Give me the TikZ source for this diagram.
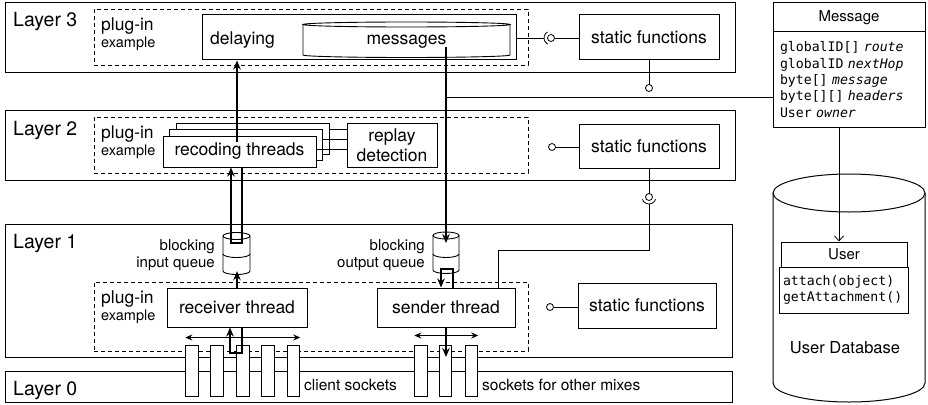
\documentclass[tikz,border=0pt]{standalone}
\usepackage{fontspec}
\setmainfont{TeX Gyre Heros}
\setmonofont{DejaVu Sans Mono}
\usepackage{tikz}
\usetikzlibrary{arrows.meta, positioning}
\newcommand{\fsz}[1]{\fontsize{#1}{#1}\selectfont}

\begin{document}
\begin{tikzpicture}[
  x=1pt, y=-1pt,
  layer/.style={draw, line width=1pt, fill=white},
  plugin/.style={draw, line width=0.9pt, dash pattern=on 4pt off 3pt},
  box/.style={draw, line width=1pt, fill=white, align=center, font=\fontsize{17.5}{20}\selectfont},
  txt/.style={inner sep=0pt, anchor=base west},
  lbl/.style={txt, font=\fsz{19.5}},
  plug/.style={txt, font=\fsz{17.5}},
  expl/.style={txt, font=\fsz{14.5}},
  qlbl/.style={inner sep=0pt, align=right, anchor=east, font=\fontsize{15}{17}\selectfont},
  sock/.style={draw, line width=1pt, fill=white, minimum width=12.5, minimum height=51},
  flow/.style={-{Stealth[length=9pt, width=7.5pt]}, line width=1.8pt},
  iface/.style={line width=0.8pt},
  dbl/.style={{Stealth[length=7pt, width=6pt]}-{Stealth[length=7pt, width=6pt]}, line width=1pt},
  umlhead/.style={draw, line width=1pt, fill=white, font=\fsz{15}},
  umlbody/.style={draw, line width=1pt, fill=white, align=left, font=\ttfamily\fontsize{13.2}{16.4}\selectfont},
]
\useasboundingbox (0,0) rectangle (928,404);

% Layer 3
\node[layer, minimum width=730, minimum height=69] (l3) at (370,37.5) {};
\node[lbl] (l3lbl) at (13,26.7) {Layer 3};
\node[plugin, minimum width=434, minimum height=56] (p3) at (311,37) {};
\node[plug] (p3a) at (101,30.7) {plug-in};
\node[expl] (p3b) at (101,47.7) {example};
\node[box, minimum width=314, minimum height=45] (delay) at (359,37.5) {};
\node[plug] (delaytxt) at (210,45) {delaying};
\draw[line width=0.9pt] (303,24.5) -- (303,55) arc[start angle=180, end angle=360, x radius=103.5pt, y radius=2.5pt] -- (510,24.5);
\draw[line width=0.9pt] (406.5,24.5) ellipse[x radius=103.5pt, y radius=2.5pt];
\node[plug, anchor=base] (msgs) at (406.5,45) {messages};
\node[box, minimum width=140, minimum height=45] (sf3) at (649,37.5) {static functions};

% Layer 2
\node[layer, minimum width=730, minimum height=70] (l2) at (370,145) {};
\node[lbl] (l2lbl) at (13,135) {Layer 2};
\node[plugin, minimum width=434, minimum height=56] (p2) at (311,145) {};
\node[plug] (p2a) at (101,138.3) {plug-in};
\node[expl] (p2b) at (101,155) {example};
\node[box, minimum width=153, minimum height=31] (rec3) at (252.5,138.5) {};
\node[box, minimum width=153, minimum height=31] (rec2) at (246,145) {};
\node[box, minimum width=153, minimum height=31] (rec1) at (239.5,151.5) {recoding threads};
\node[box, minimum width=90, minimum height=44] (rep) at (392,145) {replay\\detection};
\node[box, minimum width=140, minimum height=44] (sf2) at (649,146) {static functions};

% Layer 1
\node[layer, minimum width=727, minimum height=133] (l1) at (368.5,290.5) {};
\node[lbl] (l1lbl) at (13,248.3) {Layer 1};
\node[plugin, minimum width=434, minimum height=69] (p1) at (311,316.5) {};
\node[plug] (p1a) at (101,303) {plug-in};
\node[expl] (p1b) at (101,320.7) {example};
\node[minimum width=27, minimum height=35] (inq) at (236.5,253.5) {};
\draw[line width=0.9pt] (223,236) -- (223,271) arc[start angle=180, end angle=360, x radius=13.5pt, y radius=3.5pt] -- (250,236);
\draw[line width=0.9pt] (236.5,236) ellipse[x radius=13.5pt, y radius=3.5pt];
\draw[line width=0.9pt] (223,254) arc[start angle=180, end angle=360, x radius=13.5pt, y radius=3.5pt];
\node[qlbl] (inqlbl) at (215,255) {blocking\\input queue};
\node[minimum width=26, minimum height=34.5] (outq) at (446,253) {};
\draw[line width=0.9pt] (433,235.5) -- (433,270) arc[start angle=180, end angle=360, x radius=13pt, y radius=3.5pt] -- (459,235.5);
\draw[line width=0.9pt] (446,235.5) ellipse[x radius=13pt, y radius=3.5pt];
\draw[line width=0.9pt] (433,254) arc[start angle=180, end angle=360, x radius=13pt, y radius=3.5pt];
\node[qlbl] (outqlbl) at (425,255) {blocking\\output queue};
\node[box, minimum width=140, minimum height=39] (recv) at (237,307.5) {receiver thread};
\node[box, minimum width=138, minimum height=39] (send) at (446,307.5) {sender thread};
\node[box, minimum width=138, minimum height=45] (sf1) at (647,305.5) {static functions};

% Layer 0
\node[layer, minimum width=727, minimum height=31] (l0) at (368.5,386.5) {};
\node[lbl] (l0lbl) at (13,395) {Layer 0};
\foreach \i/\x in {1/192, 2/217, 3/243, 4/268, 5/293.5}
  \node[sock] (cs\i) at (\x,370.5) {};
\foreach \i/\x in {1/421, 2/445.5, 3/471.5}
  \node[sock] (ss\i) at (\x,370.5) {};
\node[txt, font=\fsz{15.5}] (cslbl) at (304,390) {client sockets};
\node[txt, font=\fsz{15.5}] (sslbl) at (482,390) {sockets for other mixes};

% Message and user database
\node[umlhead, minimum width=152, minimum height=29] (msghead) at (849,17.5) {Message};
\node[umlbody, minimum width=152, minimum height=95, text width=138] (msgbody) at (849,79.5)
  {globalID[] \textit{route}\\globalID \textit{nextHop}\\byte[] \textit{message}\\byte[][] \textit{headers}\\User \textit{owner}};
\draw[line width=1pt] (773,193) -- (773,383) arc[start angle=180, end angle=360, x radius=76pt, y radius=19pt] -- (925,193);
\draw[line width=1pt] (849,193) ellipse[x radius=76pt, y radius=19pt];
\node[umlhead, minimum width=126, minimum height=25] (userhead) at (844,254.5) {User};
\node[umlbody, minimum width=126, minimum height=46, text width=122] (userbody) at (844,290)
  {attach(object)\\getAttachment()};
\node[inner sep=0pt, anchor=base, font=\fsz{16.5}] (userdb) at (845,353.3) {User Database};

% Interfaces
\coordinate (ball3) at (551,38);
\draw[iface] (delay.east |- ball3) -- ([xshift=-7pt]ball3);
\draw[iface] ([xshift=3.5pt]ball3) -- (sf3.west |- ball3);
\draw[iface] (ball3) ++(120:7pt) arc[start angle=120, end angle=240, radius=7pt];
\draw[iface] (ball3) circle[radius=3.5pt];
\coordinate (ball3b) at (649,88);
\draw[iface] (sf3.south) -- ([yshift=3.5pt]ball3b);
\draw[iface] (ball3b) circle[radius=3.5pt];
\coordinate (tap) at (446,97.5);
\draw[iface] (tap) -- (tap -| msgbody.west);

\coordinate (ball2) at (552,147);
\draw[iface] ([xshift=3.5pt]ball2) -- (sf2.west |- ball2);
\draw[iface] (ball2) circle[radius=3.5pt];
\coordinate (ball2b) at (649,197);
\draw[iface] (sf2.south) -- ([yshift=3.5pt]ball2b);
\draw[iface] (ball2b) circle[radius=3.5pt];
\draw[iface] (ball2b) ++(200:7pt) arc[start angle=200, end angle=340, radius=7pt];
\coordinate (bend) at (649,250);
\draw[iface] ([yshift=-7pt]ball2b) -- (bend) -| ([xshift=52pt]send.north);

\coordinate (ball1) at (550,307);
\draw[iface] ([xshift=3.5pt]ball1) -- (sf1.west |- ball1);
\draw[iface] (ball1) circle[radius=3.5pt];

\draw[line width=1pt] (rec3.east |- 0,129) -- (rep.west |- 0,129);
\draw[line width=1pt] (rec2.east |- 0,139) -- (rep.west |- 0,139);
\draw[line width=1pt] (rec1.east |- 0,149) -- (rep.west |- 0,149);

\draw[-{Straight Barb[length=5pt, width=9pt]}, line width=0.8pt] (msgbody.south -| 839,0) -- (userhead.north -| 839,0);

% Data flow
\coordinate (recup) at (237,142);
\draw[flow] (recup) -- (recup |- delay.south);
\coordinate (msgdown) at (446,47);
\coordinate (outqin) at (446,243);
\draw[flow] (msgdown) -- (outqin);
\draw[flow] (rec1.south -| 242,0) -- (242,243) -- (231,243) -- (rec1.south -| 231,0);
\draw[flow] (recv.north) -- (recv.north |- inq.south);
\draw[flow] (recv.south -| 242,0) -- (242,353) -- (230,353) -- (recv.south -| 230,0);
\draw[flow] (send.north -| 453,0) -- (453,269) -- (441,269) -- (send.north -| 441,0);
\draw[flow] (send.south) -- (send.south |- 0,357);
\draw[dbl] ([yshift=7pt]cs1.north west) -- ([yshift=7pt]cs5.north east);
\draw[dbl] ([yshift=9pt]ss1.north west) -- ([yshift=9pt]ss3.north east);

\end{tikzpicture}
\end{document}
